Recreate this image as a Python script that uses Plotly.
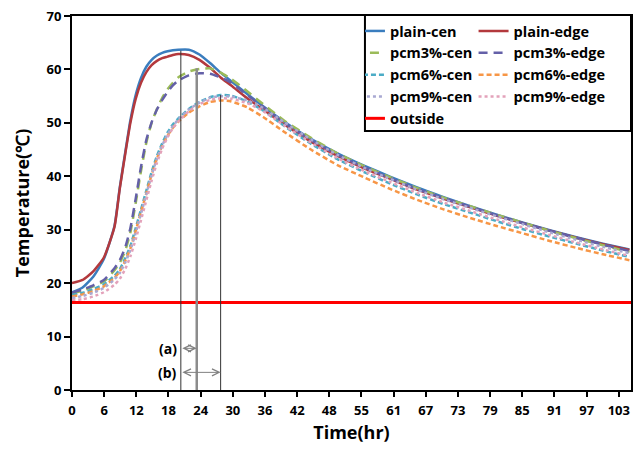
import plotly.graph_objects as go
import numpy as np

# ---------------- data ----------------
time_hr = [0, 2, 4, 6, 8, 9, 10, 11, 12, 13, 14, 15, 16, 17, 18, 19, 20, 22, 24, 26, 28, 30,
           33, 36, 40, 45, 50, 55, 60, 65, 70, 75, 80, 85, 90, 95, 100, 105]

plain_cen = [18.3, 19.2, 21.2, 24.5, 30.7, 37.9, 44.3, 50.5, 55.2, 58.4, 60.5, 61.8, 62.6, 63.1, 63.4,
             63.6, 63.7, 63.7, 62.8, 61.2, 59.4, 57.8, 55.4, 53.1, 50.2, 47.0, 44.3, 42.0, 39.9,
             37.9, 36.1, 34.4, 32.8, 31.3, 29.9, 28.6, 27.4, 26.3]
plain_edge = [20.0, 20.6, 22.2, 24.8, 30.5, 37.7, 44.0, 50.0, 54.5, 57.5, 59.5, 60.8, 61.6, 62.1, 62.4,
              62.7, 62.9, 62.7, 61.8, 60.3, 58.5, 57.0, 54.6, 52.5, 49.7, 46.5, 43.8, 41.5, 39.5,
              37.5, 35.8, 34.2, 32.6, 31.2, 29.8, 28.5, 27.3, 26.2]
pcm3_cen = [18.0, 18.6, 19.4, 20.3, 22.4, 23.8, 26.0, 29.5, 35.0, 41.0, 46.3, 50.0, 52.6, 54.7, 56.3,
            57.5, 58.5, 59.6, 60.1, 60.2, 59.4, 58.2, 55.9, 53.5, 50.4, 47.2, 44.3, 41.9, 39.8,
            37.8, 36.0, 34.4, 32.8, 31.3, 29.8, 28.4, 27.1, 25.8]
pcm3_edge = [18.2, 18.8, 19.6, 20.6, 22.8, 24.3, 26.6, 30.3, 35.8, 41.8, 46.8, 50.1, 52.5, 54.3, 55.8,
             57.0, 57.9, 58.9, 59.3, 59.2, 58.5, 57.5, 55.2, 53.0, 50.0, 46.8, 44.0, 41.7, 39.6,
             37.6, 35.9, 34.3, 32.7, 31.2, 29.8, 28.5, 27.2, 26.0]
pcm6_cen = [17.8, 18.2, 18.9, 19.8, 21.4, 22.6, 24.6, 27.0, 30.3, 33.8, 37.3, 40.8, 43.8, 46.2, 48.2,
            49.7, 50.8, 52.6, 53.9, 54.8, 55.2, 55.1, 54.0, 52.3, 49.4, 46.1, 43.2, 40.8, 38.6,
            36.6, 34.8, 33.2, 31.6, 30.1, 28.7, 27.4, 26.1, 24.9]
pcm6_edge = [17.5, 17.9, 18.5, 19.4, 21.0, 22.2, 24.1, 26.5, 29.8, 33.3, 36.8, 40.3, 43.3, 45.7, 47.6,
             49.1, 50.2, 51.9, 53.1, 53.9, 54.2, 54.0, 52.9, 51.1, 48.3, 45.0, 42.1, 39.8, 37.6,
             35.6, 33.8, 32.2, 30.7, 29.3, 27.9, 26.6, 25.4, 24.3]
pcm9_cen = [17.2, 17.6, 18.2, 19.1, 20.7, 21.9, 23.8, 26.2, 29.4, 33.0, 36.6, 40.2, 43.3, 45.8, 47.8,
            49.4, 50.6, 52.5, 53.8, 54.7, 55.0, 54.9, 54.2, 52.8, 50.1, 46.9, 44.0, 41.6, 39.5,
            37.5, 35.7, 34.1, 32.5, 31.0, 29.5, 28.1, 26.8, 25.6]
pcm9_edge = [16.8, 17.0, 17.5, 18.3, 19.7, 20.8, 22.6, 25.0, 28.2, 31.8, 35.5, 39.2, 42.5, 45.2, 47.3,
             49.0, 50.2, 52.2, 53.5, 54.3, 54.6, 54.5, 53.7, 52.2, 49.5, 46.3, 43.4, 41.0, 38.9,
             36.9, 35.1, 33.5, 31.9, 30.4, 29.0, 27.6, 26.3, 25.1]
outside_time = [0, 105.3]
outside_temp = [16.4, 16.4]

tick_labels = ["0", "6", "12", "18", "24", "30", "36", "42", "48", "55", "61", "67",
               "73", "79", "85", "91", "97", "103"]
tick_step_hr = 103 / 17
y_ticks = [0, 10, 20, 30, 40, 50, 60, 70]

# peak markers: time of peak (hr) and temperature at peak
peak_times = [20.5, 23.5, 28.0]
peak_temps = [63.5, 60.2, 55.2]
peak_line_colors = ["#333333", "#8c8c8c", "#333333"]
peak_line_widths = [1, 2.5, 1]
# delay arrows (a), (b)
arrow_labels = ["(a)", "(b)"]
arrow_ends = [23.5, 28.0]
arrow_levels = [7.8, 3.3]

# ---------------- figure ----------------
series = [
    ("plain-cen", plain_cen, "#3A7DBE", "solid", "legend"),
    ("plain-edge", plain_edge, "#B3393D", "solid", "legend2"),
    ("pcm3%-cen", pcm3_cen, "#9BBB59", "9px,6px", "legend"),
    ("pcm3%-edge", pcm3_edge, "#6460A8", "9px,6px", "legend2"),
    ("pcm6%-cen", pcm6_cen, "#4BACC6", "5px,3px", "legend"),
    ("pcm6%-edge", pcm6_edge, "#F79646", "5px,3px", "legend2"),
    ("pcm9%-cen", pcm9_cen, "#A9A9D2", "dot", "legend"),
    ("pcm9%-edge", pcm9_edge, "#E3A2BA", "dot", "legend2"),
]

fig = go.Figure()
for name, vals, color, dash, leg in series:
    fig.add_trace(go.Scatter(x=time_hr, y=vals, mode="lines", name=name, legend=leg,
                             line=dict(color=color, width=2.5, dash=dash, shape="spline",
                                       smoothing=0.5)))
fig.add_trace(go.Scatter(x=outside_time, y=outside_temp, mode="lines", name="outside",
                         legend="legend", line=dict(color="#FF0000", width=3)))

shapes = []
for t, v, c, w in zip(peak_times, peak_temps, peak_line_colors, peak_line_widths):
    shapes.append(dict(type="line", xref="x", yref="y", x0=t, x1=t, y0=0, y1=v,
                       line=dict(color=c, width=w), layer="above"))
# legend frame
box_left_px = 366
shapes.append(dict(type="rect", xref="paper", yref="paper",
                   x0=(box_left_px - 72) / 561, x1=1.0, y0=(390 - 129) / 377, y1=(390 - 12) / 377,
                   line=dict(color="black", width=2), fillcolor="white", layer="above"))

annotations = []
for lab, xe, yl in zip(arrow_labels, arrow_ends, arrow_levels):
    annotations.append(dict(x=xe, y=yl, ax=peak_times[0], ay=yl, xref="x", yref="y",
                            axref="x", ayref="y", text="", showarrow=True,
                            arrowhead=5, arrowsize=1.4, arrowwidth=1, arrowcolor="#808080",
                            arrowside="end+start", startarrowhead=5, startarrowsize=1.4,
                            standoff=0, startstandoff=0))
    annotations.append(dict(x=peak_times[0], y=yl, xref="x", yref="y", text="<b>%s</b>" % lab,
                            showarrow=False, xanchor="right", xshift=-2,
                            font=dict(family="Open Sans", size=14, color="black")))

tick_font = dict(family="Open Sans", size=13, color="black", weight="bold")
fig.update_layout(
    width=640, height=450,
    margin=dict(l=72, r=7, t=13, b=60),
    plot_bgcolor="white", paper_bgcolor="white",
    font=dict(family="Open Sans", color="black"),
    shapes=shapes, annotations=annotations,
    xaxis=dict(range=[0, 105.3], tickvals=[i * tick_step_hr for i in range(len(tick_labels))],
               ticktext=tick_labels, showgrid=False, zeroline=False,
               showline=True, linecolor="black", linewidth=2, mirror=True,
               ticks="outside", ticklen=5, tickwidth=2, tickcolor="black",
               tickfont=tick_font, ticklabelstandoff=2,
               title=dict(text="<b>Time(hr)</b>", font=dict(family="Open Sans", size=18),
                          standoff=9)),
    yaxis=dict(range=[0, 70], tickvals=y_ticks, showgrid=False, zeroline=False,
               showline=True, linecolor="black", linewidth=2, mirror=True,
               ticks="outside", ticklen=6, tickwidth=2, tickcolor="black",
               tickfont=tick_font,
               title=dict(text="<b>Temperature(℃)</b>", font=dict(family="Open Sans", size=18),
                          standoff=12)),
    legend=dict(x=(box_left_px - 72) / 561, y=(390 - 12) / 377, xanchor="left", yanchor="top",
                bgcolor="rgba(0,0,0,0)", borderwidth=0, indentation=-15,
                font=dict(family="Open Sans", size=14.5, color="black", weight="bold")),
    legend2=dict(x=(475 - 72) / 561, y=(390 - 12) / 377, xanchor="left", yanchor="top",
                 bgcolor="rgba(0,0,0,0)", borderwidth=0,
                 font=dict(family="Open Sans", size=14.5, color="black", weight="bold")),
)

fig.write_html("out.html")
